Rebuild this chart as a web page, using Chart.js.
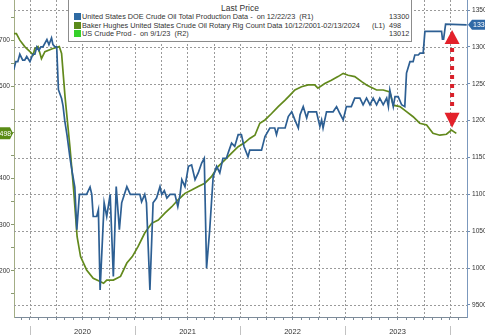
<!DOCTYPE html>
<html>
<head>
<meta charset="utf-8">
<script src="https://cdn.jsdelivr.net/npm/chart.js@4.4.1/dist/chart.umd.min.js"></script>
<style>
    html, body { margin: 0; padding: 0; background: #fff; overflow: hidden; width: 485px; height: 335px; }
    #wrap { position: relative; width: 485px; height: 335px; overflow: hidden; }
    #chart { position: absolute; left: 0; top: 0; }
    #legend {
        position: absolute; left: 68px; top: -1px; width: 342px; height: 41px;
        border: 1px solid #8c8c8c; background: #fff;
        font-family: "Liberation Sans", Arial, sans-serif; font-size: 7.3px; color: #333;
    }
    #legend .title { position: absolute; left: 0; right: 0; top: 3px; text-align: center; font-size: 8.5px; }
    #legend .row { position: absolute; left: 0; right: 0; height: 9px; line-height: 9px; white-space: nowrap; }
    #legend .sw { position: absolute; left: 5px; top: 1px; width: 7px; height: 7px; }
    #legend .txt { position: absolute; left: 13px; }
    #legend .axis { position: absolute; left: 303px; }
    #legend .val { position: absolute; left: 320px; }
</style>
</head>
<body>
<div id="wrap">
    <canvas id="chart" width="495" height="335"></canvas>
    <div id="legend">
        <div class="title">Last Price</div>
        <div class="row" style="top:12px"><span class="sw" style="background:#2e6aa3"></span><span class="txt">United States DOE Crude Oil Total Production Data -&nbsp; on 12/22/23&nbsp; (R1)</span><span class="val">13300</span></div>
        <div class="row" style="top:21px"><span class="sw" style="background:#5b8a1a"></span><span class="txt">Baker Hughes United States Crude Oil Rotary Rig Count Data 10/12/2001-02/13/2024</span><span class="axis">(L1)</span><span class="val">498</span></div>
        <div class="row" style="top:29px"><span class="sw" style="background:#35d12a"></span><span class="txt">US Crude Prod -&nbsp; on 9/1/23&nbsp; (R2)</span><span class="val">13012</span></div>
    </div>
</div>
<script>
// --- datos ---
const YEAR_LABELS = ['2020', '2021', '2022', '2023'];

const PROD_DATES = [
    '2019-11-06', '2019-11-13', '2019-11-20', '2019-11-27', '2019-12-07', '2019-12-14', '2019-12-21',
    '2020-01-01', '2020-01-11', '2020-01-18', '2020-01-25', '2020-02-01', '2020-02-08', '2020-02-15',
    '2020-02-29', '2020-03-07', '2020-03-16', '2020-03-21', '2020-03-28', '2020-04-03', '2020-04-09',
    '2020-04-20', '2020-04-25', '2020-05-01', '2020-05-09', '2020-05-19', '2020-05-27', '2020-06-05',
    '2020-06-12', '2020-06-21', '2020-07-05', '2020-07-16', '2020-07-28', '2020-08-03', '2020-08-08',
    '2020-08-20', '2020-08-26', '2020-09-01', '2020-09-15', '2020-09-24', '2020-10-06', '2020-10-17',
    '2020-10-27', '2020-11-07', '2020-11-15', '2020-12-03', '2020-12-15', '2021-01-01', '2021-01-18',
    '2021-01-24', '2021-02-04', '2021-02-10', '2021-02-22', '2021-03-05', '2021-03-17', '2021-03-29',
    '2021-04-04', '2021-04-13', '2021-04-22', '2021-05-03', '2021-05-20', '2021-05-30', '2021-06-07',
    '2021-06-13', '2021-06-24', '2021-07-06', '2021-07-17', '2021-07-29', '2021-08-09', '2021-08-21',
    '2021-08-30', '2021-09-07', '2021-09-18', '2021-09-30', '2021-10-12', '2021-10-23', '2021-11-03',
    '2021-11-15', '2021-11-21', '2021-12-03', '2021-12-14', '2021-12-26', '2022-01-06', '2022-01-15',
    '2022-01-29', '2022-02-04', '2022-03-17', '2022-03-29', '2022-04-15', '2022-05-02', '2022-05-08',
    '2022-05-14', '2022-06-07', '2022-06-18', '2022-06-30', '2022-07-11', '2022-07-23', '2022-07-29',
    '2022-08-09', '2022-08-21', '2022-08-27', '2022-09-24', '2022-10-06', '2022-10-12', '2022-10-17',
    '2022-10-29', '2022-11-21', '2022-12-03', '2022-12-14', '2022-12-26', '2023-01-06', '2023-01-23',
    '2023-02-04', '2023-02-22', '2023-03-05', '2023-03-17', '2023-03-29', '2023-04-09', '2023-04-21',
    '2023-05-02', '2023-05-14', '2023-05-26', '2023-06-01', '2023-06-06', '2023-06-18', '2023-06-24',
    '2023-07-05', '2023-07-17', '2023-07-28', '2023-08-03', '2023-08-15', '2023-08-26', '2023-09-01',
    '2023-09-13', '2023-09-19', '2023-09-30', '2023-10-06', '2023-12-03', '2023-12-06', '2023-12-10',
    '2023-12-17', '2024-02-28'
];
const PROD_VALUES = [
    12690, 12800, 12800, 12900, 12820, 12820, 12870,
    12800, 12900, 12900, 13000, 12950, 13000, 13000,
    13100, 13030, 13120, 13030, 13000, 13000, 12420,
    12300, 12200, 12000, 11800, 11500, 11300, 11100,
    10520, 11000, 11000, 11000, 11100, 11000, 10700,
    10700, 10790, 9705, 10885, 10700, 11000, 9885,
    11105, 10520, 10885, 11105, 11000, 11000, 11000,
    10900, 11000, 10885, 9705, 10885, 10950, 11105,
    11000, 11050, 10950, 11000, 11000, 10835, 11000,
    11200, 11105, 11380, 11400, 11200, 11290, 11425,
    11490, 10000, 10520, 11240, 11380, 11290, 11490,
    11490, 11560, 11695, 11650, 11810, 11810, 11650,
    11510, 11600, 11600, 11785, 11900, 11900, 11810,
    11900, 11900, 12055, 12120, 12010, 11900, 12080,
    12190, 12035, 12120, 12120, 11920, 12010, 11900,
    12120, 12120, 12190, 12100, 12010, 12190, 12190,
    12305, 12305, 12215, 12305, 12215, 12305, 12215,
    12305, 12215, 12305, 12190, 12415, 12190, 12325,
    12325, 12215, 12190, 12645, 12800, 12800, 12890,
    12890, 12915, 12915, 13210, 13210, 13105, 13105,
    13310, 13300
];

const RIG_DATES = [
    '2019-11-06', '2019-11-15', '2019-11-27', '2019-12-14', '2020-01-01', '2020-01-12', '2020-01-18',
    '2020-01-29', '2020-02-10', '2020-02-22', '2020-03-21', '2020-04-12', '2020-04-20', '2020-05-02',
    '2020-05-19', '2020-06-01', '2020-06-13', '2020-06-25', '2020-07-16', '2020-08-08', '2020-09-01',
    '2020-09-13', '2020-09-24', '2020-10-17', '2020-11-11', '2020-12-03', '2020-12-22', '2021-01-12',
    '2021-02-04', '2021-02-28', '2021-03-23', '2021-04-15', '2021-05-09', '2021-05-31', '2021-06-24',
    '2021-07-17', '2021-08-09', '2021-09-01', '2021-09-24', '2021-10-17', '2021-11-09', '2021-12-03',
    '2021-12-26', '2022-01-18', '2022-02-04', '2022-02-22', '2022-03-11', '2022-03-29', '2022-04-21',
    '2022-05-14', '2022-06-07', '2022-06-24', '2022-07-11', '2022-08-03', '2022-08-26', '2022-09-18',
    '2022-09-29', '2022-10-23', '2022-11-15', '2022-12-08', '2022-12-26', '2023-01-12', '2023-02-04',
    '2023-02-28', '2023-03-17', '2023-03-29', '2023-04-21', '2023-05-14', '2023-06-06', '2023-06-18',
    '2023-07-11', '2023-08-03', '2023-08-26', '2023-09-18', '2023-10-12', '2023-11-03', '2023-11-27',
    '2023-12-20', '2024-01-06', '2024-01-23'
];
const RIG_VALUES = [
    714, 714, 700, 686, 675, 668, 682,
    686, 660, 675, 682, 686, 671, 577,
    469, 375, 274, 231, 202, 184, 177,
    173, 180, 180, 188, 217, 231, 253,
    282, 303, 310, 325, 339, 354, 368,
    375, 383, 390, 404, 426, 440, 455,
    469, 478, 487, 494, 520, 527, 541,
    556, 570, 581, 592, 599, 603, 603,
    596, 606, 613, 621, 628, 624, 621,
    610, 603, 599, 592, 592, 588, 559,
    556, 545, 534, 520, 516, 498, 494,
    496, 505, 498
];

const LEFT_TICKS = [150, 200, 250, 300, 350, 400, 450, 500, 550, 600, 650, 700, 750];
const RIGHT_TICKS = [9500, 10000, 10500, 11000, 11500, 12000, 12500, 13000, 13500];
const LAST_RIG = 498;
const LAST_PROD = 13300;

// --- configuración ---
const X_MIN = 2019.848, X_MAX = 2024.162;
const BLUE = '#2d5f93';
const OLIVE = '#62891c';
const GRID = '#9a9a9a';
const FONT = { family: '"Liberation Sans", Arial, sans-serif', size: 7.5 };
const FONT_Y = { family: '"Liberation Sans", Arial, sans-serif', size: 6.6 };

function toYear(s) {
    const d = new Date(s + 'T00:00:00Z');
    const start = Date.UTC(d.getUTCFullYear(), 0, 1);
    return d.getUTCFullYear() + (d - start) / (365.25 * 86400000);
}

function monthOf(v) {
    return Math.round((v - Math.floor(v + 1e-6)) * 12) % 12;
}

const monthTicks = [];
for (let y = 2019; y <= 2024; y++) {
    for (let m = 0; m < 12; m++) {
        const v = y + m / 12;
        if (v >= X_MIN && v <= X_MAX) monthTicks.push(v);
    }
}

function fixPadding(s) {
    s.paddingTop = 0; s.paddingBottom = 0; s.paddingLeft = 0; s.paddingRight = 0;
}

// rejilla punteada (trimestres en x, ticks del eje derecho en y)
const dottedGrid = {
    id: 'dottedGrid',
    beforeDatasetsDraw(chart) {
        const { ctx, chartArea: a, scales } = chart;
        ctx.save();
        ctx.strokeStyle = GRID;
        ctx.lineWidth = 1;
        ctx.setLineDash([2, 2]);
        scales.x.ticks.forEach(t => {
            if (monthOf(t.value) % 3 !== 0) return;
            const px = Math.round(scales.x.getPixelForValue(t.value)) + 0.5;
            ctx.beginPath(); ctx.moveTo(px, a.top); ctx.lineTo(px, a.bottom); ctx.stroke();
        });
        scales.yR.ticks.forEach(t => {
            const py = Math.round(scales.yR.getPixelForValue(t.value)) + 0.5;
            ctx.beginPath(); ctx.moveTo(a.left, py); ctx.lineTo(a.right, py); ctx.stroke();
        });
        ctx.restore();
    }
};

// marcas largas de año + etiquetas y flecha
const extras = {
    id: 'extras',
    afterDraw(chart) {
        const { ctx, chartArea, scales } = chart;
        const x = scales.x, yL = scales.yL, yR = scales.yR;
        ctx.save();

        // separadores de año bajo el eje
        ctx.strokeStyle = '#c2c2c2';
        ctx.lineWidth = 1;
        for (let yr = 2020; yr <= 2024; yr++) {
            const px = Math.round(x.getPixelForValue(yr)) + 0.5;
            ctx.beginPath();
            ctx.moveTo(px, chartArea.bottom + 9);
            ctx.lineTo(px, chart.height);
            ctx.stroke();
        }

        // flecha roja
        const ax = x.getPixelForValue(2024.02);
        const top = yR.getPixelForValue(13230);
        const bot = yL.getPixelForValue(510);
        ctx.fillStyle = '#e3212b';
        ctx.beginPath();
        ctx.moveTo(ax, top); ctx.lineTo(ax + 7.5, top + 14); ctx.lineTo(ax - 7.5, top + 14);
        ctx.closePath(); ctx.fill();
        ctx.beginPath();
        ctx.moveTo(ax, bot); ctx.lineTo(ax + 7.5, bot - 15); ctx.lineTo(ax - 7.5, bot - 15);
        ctx.closePath(); ctx.fill();
        ctx.strokeStyle = '#d9202a';
        ctx.lineWidth = 4;
        ctx.setLineDash([4, 5]);
        ctx.beginPath();
        ctx.moveTo(ax, top + 18); ctx.lineTo(ax, bot - 17);
        ctx.stroke();
        ctx.setLineDash([]);

        // etiqueta 498 a la izquierda
        const ly = yL.getPixelForValue(LAST_RIG);
        ctx.fillStyle = '#5a8c16';
        ctx.beginPath();
        ctx.moveTo(-2, ly - 6); ctx.lineTo(10, ly - 6); ctx.lineTo(13, ly);
        ctx.lineTo(10, ly + 6); ctx.lineTo(-2, ly + 6); ctx.closePath(); ctx.fill();
        ctx.fillStyle = '#fff';
        ctx.font = '7px "Liberation Sans", Arial, sans-serif';
        ctx.textAlign = 'left'; ctx.textBaseline = 'middle';
        ctx.fillText(String(LAST_RIG), -0.5, ly + 0.5);

        // etiqueta 13300 a la derecha
        const ry = yR.getPixelForValue(LAST_PROD);
        const rx = chartArea.right;
        ctx.fillStyle = '#2f69a6';
        ctx.beginPath();
        ctx.moveTo(rx + 1, ry); ctx.lineTo(rx + 5, ry - 5); ctx.lineTo(chart.width, ry - 5);
        ctx.lineTo(chart.width, ry + 5); ctx.lineTo(rx + 5, ry + 5); ctx.closePath(); ctx.fill();
        ctx.fillStyle = '#fff';
        ctx.fillText(String(LAST_PROD), rx + 6, ry + 0.5);

        ctx.restore();
    }
};

new Chart(document.getElementById('chart').getContext('2d'), {
    type: 'line',
    data: {
        datasets: [{
            label: 'United States DOE Crude Oil Total Production Data',
            data: PROD_DATES.map((d, i) => ({ x: toYear(d), y: PROD_VALUES[i] })),
            yAxisID: 'yR',
            borderColor: BLUE,
            borderWidth: 1.7,
            pointRadius: 0,
            tension: 0
        }, {
            label: 'Baker Hughes United States Crude Oil Rotary Rig Count',
            data: RIG_DATES.map((d, i) => ({ x: toYear(d), y: RIG_VALUES[i] })),
            yAxisID: 'yL',
            borderColor: OLIVE,
            borderWidth: 1.7,
            pointRadius: 0,
            tension: 0
        }]
    },
    options: {
        responsive: false,
        animation: false,
        devicePixelRatio: 1,
        layout: { padding: 0 },
        plugins: { legend: { display: false }, tooltip: { enabled: false } },
        scales: {
            x: {
                type: 'linear',
                min: X_MIN, max: X_MAX,
                afterBuildTicks: s => { s.ticks = monthTicks.map(v => ({ value: v })); },
                afterFit: s => { s.height = 18; fixPadding(s); },
                ticks: {
                    autoSkip: false, maxRotation: 0, padding: 7,
                    color: '#333', font: FONT,
                    callback: v => {
                        const y = String(Math.floor(v + 1e-6));
                        return monthOf(v) === 6 && YEAR_LABELS.includes(y) ? y : '';
                    }
                },
                grid: { drawOnChartArea: false, tickColor: '#7d8b99', tickLength: 3 },
                border: { color: '#7d8b99' }
            },
            yL: {
                position: 'left',
                min: 100, max: 787,
                afterBuildTicks: s => { s.ticks = LEFT_TICKS.map(v => ({ value: v })); },
                afterFit: s => { s.width = 14; fixPadding(s); },
                ticks: {
                    padding: 1, color: '#333', font: FONT_Y,
                    callback: v => (v % 100 === 0 && v !== 500) ? String(v) : ''
                },
                grid: { drawOnChartArea: false, tickColor: '#8a9a70', tickLength: 3 },
                border: { color: '#a3ad85' }
            },
            yR: {
                position: 'right',
                min: 9337, max: 13636,
                afterBuildTicks: s => { s.ticks = RIGHT_TICKS.map(v => ({ value: v })); },
                afterFit: s => { s.width = 28; fixPadding(s); },
                ticks: { padding: 2, color: '#333', font: FONT_Y, callback: v => String(v) },
                grid: { drawOnChartArea: false, tickColor: '#6f8db2', tickLength: 3 },
                border: { color: '#7b98bd' }
            }
        }
    },
    plugins: [dottedGrid, extras]
});
</script>
</body>
</html>
